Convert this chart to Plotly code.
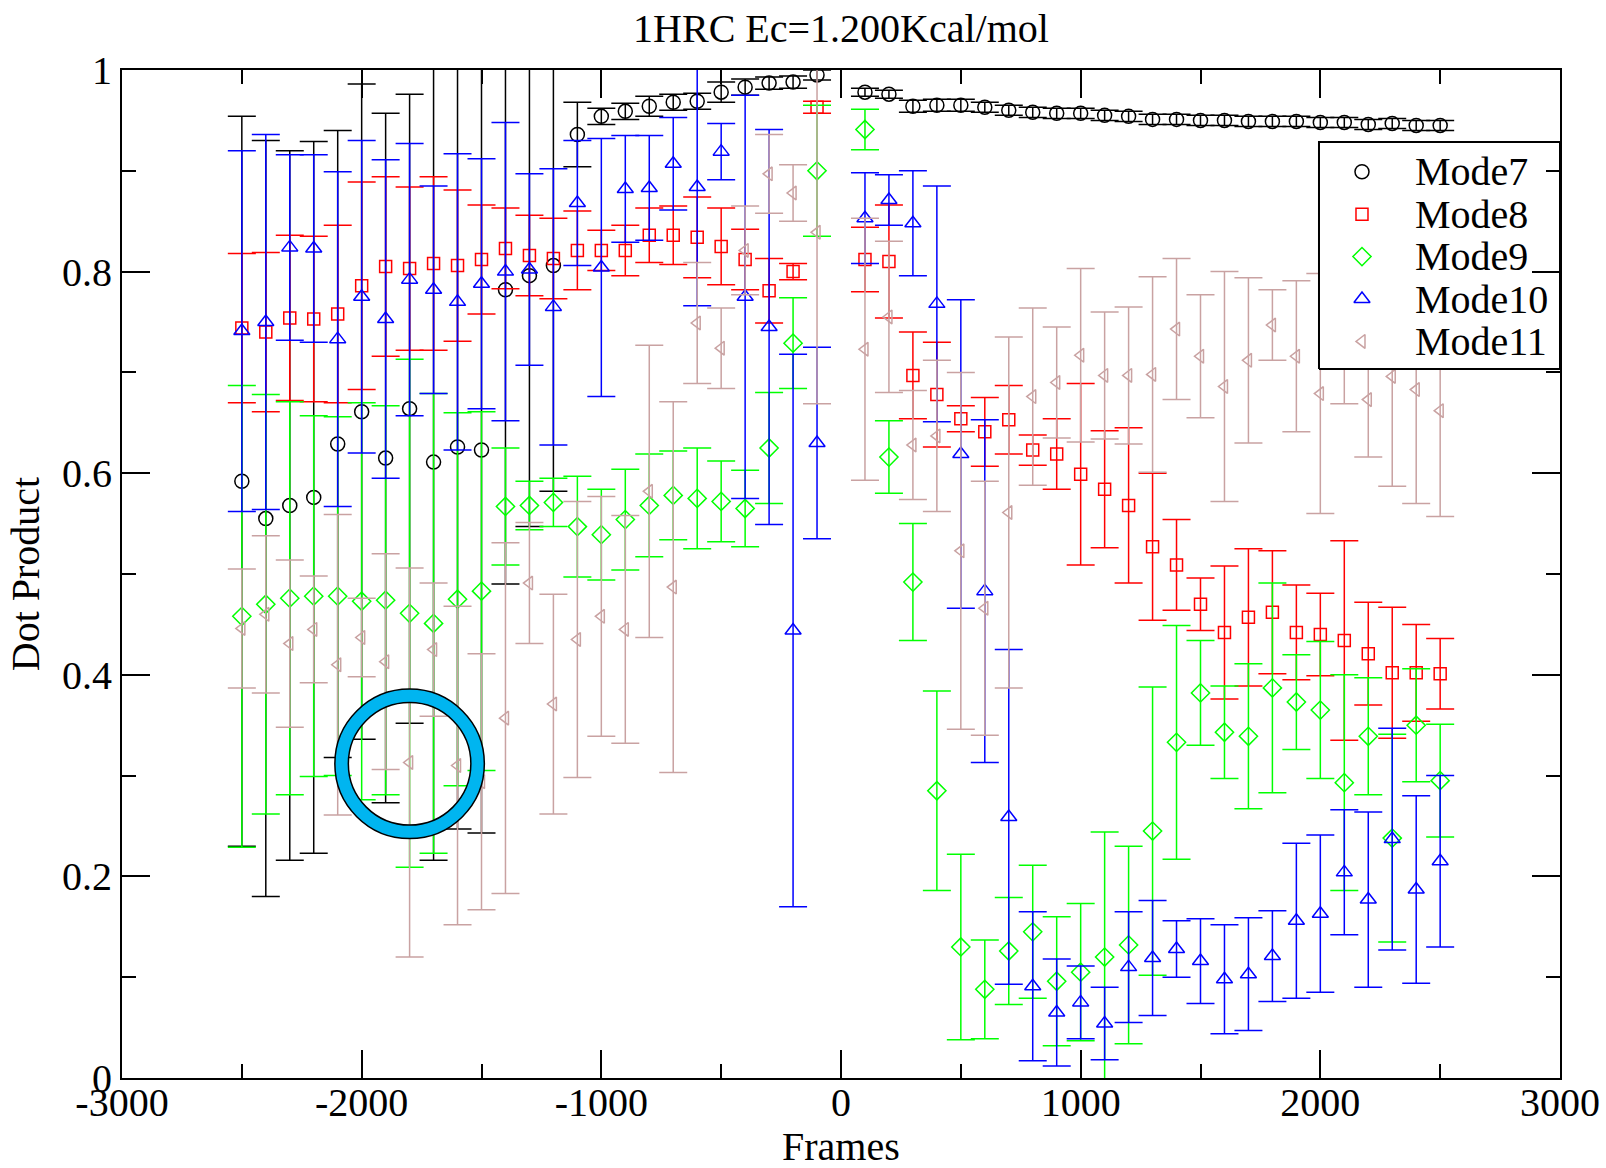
import plotly.graph_objects as go

# ---------------- data ----------------
frames = [-2500, -2400, -2300, -2200, -2100, -2000, -1900, -1800, -1700, -1600,
          -1500, -1400, -1300, -1200, -1100, -1000, -900, -800, -700, -600,
          -500, -400, -300, -200, -100,
          100, 200, 300, 400, 500, 600, 700, 800, 900, 1000,
          1100, 1200, 1300, 1400, 1500, 1600, 1700, 1800, 1900, 2000,
          2100, 2200, 2300, 2400, 2500]

mode7 = [0.592, 0.555, 0.568, 0.576, 0.629, 0.661, 0.615, 0.664, 0.611, 0.626,
         0.623, 0.782, 0.796, 0.806, 0.936, 0.954, 0.959, 0.964, 0.968, 0.969,
         0.978, 0.983, 0.987, 0.988, 0.995,
         0.978, 0.976, 0.964, 0.965, 0.965, 0.963, 0.960, 0.958, 0.957, 0.957,
         0.955, 0.954, 0.951, 0.951, 0.950, 0.950, 0.949, 0.949, 0.949, 0.948,
         0.948, 0.946, 0.947, 0.945, 0.945]
mode7_err = [0.362, 0.375, 0.352, 0.353, 0.311, 0.325, 0.342, 0.312, 0.395, 0.379,
             0.380, 0.292, 0.249, 0.224, 0.032, 0.008, 0.008, 0.010, 0.008, 0.008,
             0.010, 0.008, 0.006, 0.006, 0.005,
             0.004, 0.004, 0.006, 0.006, 0.006, 0.005, 0.005, 0.005, 0.005, 0.005,
             0.005, 0.005, 0.005, 0.005, 0.005, 0.005, 0.005, 0.005, 0.005, 0.005,
             0.005, 0.005, 0.005, 0.005, 0.005]

mode8 = [0.744, 0.740, 0.754, 0.753, 0.758, 0.786, 0.805, 0.803, 0.808, 0.806,
         0.812, 0.823, 0.816, 0.813, 0.821, 0.821, 0.821, 0.836, 0.836, 0.834,
         0.825, 0.812, 0.781, 0.800, 0.963,
         0.812, 0.810, 0.697, 0.678, 0.654, 0.641, 0.653, 0.623, 0.619, 0.599,
         0.584, 0.568, 0.527, 0.509, 0.470, 0.442, 0.457, 0.462, 0.442, 0.440,
         0.434, 0.421, 0.402, 0.402, 0.401]
mode8_err = [0.074, 0.079, 0.082, 0.082, 0.088, 0.103, 0.089, 0.081, 0.086, 0.075,
             0.054, 0.040, 0.040, 0.040, 0.039, 0.020, 0.025, 0.027, 0.029, 0.040,
             0.038, 0.030, 0.032, 0.008, 0.006,
             0.032, 0.056, 0.043, 0.052, 0.013, 0.034, 0.034, 0.015, 0.035, 0.090,
             0.058, 0.077, 0.073, 0.045, 0.026, 0.066, 0.068, 0.061, 0.047, 0.041,
             0.099, 0.051, 0.065, 0.048, 0.035]

mode9 = [0.458, 0.470, 0.476, 0.478, 0.478, 0.473, 0.474, 0.461, 0.451, 0.475,
         0.483, 0.567, 0.568, 0.571, 0.547, 0.539, 0.554, 0.568, 0.578, 0.575,
         0.572, 0.565, 0.625, 0.729, 0.900,
         0.941, 0.616, 0.492, 0.285, 0.130, 0.088, 0.126, 0.145, 0.096, 0.105,
         0.120, 0.132, 0.245, 0.333, 0.382, 0.343, 0.339, 0.387, 0.373, 0.365,
         0.293, 0.339, 0.238, 0.350, 0.295]
mode9_err = [0.229, 0.208, 0.195, 0.179, 0.178, 0.197, 0.193, 0.252, 0.228, 0.185,
             0.178, 0.058, 0.024, 0.024, 0.050, 0.045, 0.050, 0.051, 0.044, 0.050,
             0.040, 0.038, 0.055, 0.045, 0.065,
             0.020, 0.036, 0.058, 0.099, 0.092, 0.049, 0.053, 0.066, 0.064, 0.068,
             0.124, 0.098, 0.143, 0.116, 0.052, 0.046, 0.072, 0.104, 0.047, 0.068,
             0.107, 0.058, 0.103, 0.056, 0.056]

mode10 = [0.741, 0.750, 0.824, 0.823, 0.733, 0.775, 0.753, 0.792, 0.782, 0.770,
          0.788, 0.800, 0.802, 0.765, 0.868, 0.804, 0.882, 0.883, 0.907, 0.884,
          0.919, 0.775, 0.745, 0.444, 0.630,
          0.853, 0.871, 0.848, 0.768, 0.619, 0.483, 0.259, 0.091, 0.065, 0.075,
          0.054, 0.110, 0.119, 0.128, 0.116, 0.098, 0.103, 0.121, 0.156, 0.163,
          0.204, 0.177, 0.237, 0.187, 0.215]
mode10_err = [0.179, 0.186, 0.092, 0.093, 0.166, 0.155, 0.158, 0.135, 0.103, 0.147,
              0.124, 0.148, 0.095, 0.137, 0.062, 0.128, 0.053, 0.052, 0.046, 0.118,
              0.028, 0.200, 0.196, 0.274, 0.095,
              0.045, 0.025, 0.052, 0.117, 0.153, 0.170, 0.166, 0.074, 0.053, 0.036,
              0.036, 0.055, 0.057, 0.028, 0.042, 0.054, 0.056, 0.045, 0.077, 0.078,
              0.062, 0.087, 0.110, 0.093, 0.085]

mode11 = [0.446, 0.460, 0.431, 0.445, 0.410, 0.437, 0.413, 0.313, 0.425, 0.310,
          0.294, 0.357, 0.491, 0.371, 0.435, 0.458, 0.445, 0.582, 0.487, 0.749,
          0.724, 0.821, 0.897, 0.878, 0.839,
          0.723, 0.755, 0.628, 0.637, 0.523, 0.466, 0.561, 0.676, 0.690, 0.717,
          0.697, 0.697, 0.698, 0.743, 0.716, 0.686, 0.712, 0.747, 0.716, 0.679,
          0.750, 0.673, 0.696, 0.683, 0.662]
mode11_err = [0.059, 0.078, 0.083, 0.053, 0.149, 0.039, 0.107, 0.193, 0.066, 0.158,
              0.127, 0.174, 0.060, 0.109, 0.137, 0.119, 0.113, 0.145, 0.184, 0.060,
              0.040, 0.044, 0.039, 0.028, 0.170,
              0.130, 0.075, 0.054, 0.075, 0.177, 0.126, 0.174, 0.088, 0.055, 0.086,
              0.063, 0.068, 0.097, 0.070, 0.061, 0.114, 0.082, 0.035, 0.075, 0.119,
              0.081, 0.057, 0.109, 0.113, 0.105]

series_names = ["Mode7", "Mode8", "Mode9", "Mode10", "Mode11"]

x_tick_vals = [-3000, -2000, -1000, 0, 1000, 2000, 3000]
x_tick_text = ["-3000", "-2000", "-1000", "0", "1000", "2000", "3000"]
x_minor_vals = [-2500, -1500, -500, 500, 1500, 2500]
y_tick_vals = [0, 0.2, 0.4, 0.6, 0.8, 1.0]
y_tick_text = ["0", "0.2", "0.4", "0.6", "0.8", "1"]
y_minor_vals = [0.1, 0.3, 0.5, 0.7, 0.9]

title_text = "1HRC Ec=1.200Kcal/mol"
x_title = "Frames"
y_title = "Dot Product"

# highlighted point (blue ring in the reference)
highlight_frame = -1800
highlight_value = 0.3117

# ---------------- styles ----------------
FONT = "Liberation Serif"
colors = ["#000000", "#ff0000", "#00ff00", "#0000ff", "#c9a2a2"]
symbols = ["circle-open", "square-open", "diamond-open", "triangle-up-open", "triangle-left-open"]
sizes = [14, 12, 14, 14, 12]

values = [mode7, mode8, mode9, mode10, mode11]
errors = [mode7_err, mode8_err, mode9_err, mode10_err, mode11_err]

fig = go.Figure()
for name, yv, ev, c, sym, sz in zip(series_names, values, errors, colors, symbols, sizes):
    fig.add_trace(go.Scatter(
        x=frames, y=yv, mode="markers", name=name, showlegend=False,
        marker=dict(symbol=sym, size=sz, color=c, line=dict(width=1.5, color=c)),
        error_y=dict(type="data", array=ev, symmetric=True, color=c,
                     thickness=1.5, width=14),
    ))

# ---------------- custom legend (drawn on an overlay axis in paper units) ----------------
LEG_X0, LEG_X1, LEG_Y0, LEG_Y1 = 0.8324, 1.0, 0.7034, 0.9286
LEG_MARK_X, LEG_TEXT_X = 0.8623, 0.8978
LEG_ROW0, LEG_ROW_STEP = 0.8991, 0.0421

fig.add_trace(go.Scatter(
    x=[LEG_X0, LEG_X1, LEG_X1, LEG_X0, LEG_X0],
    y=[LEG_Y0, LEG_Y0, LEG_Y1, LEG_Y1, LEG_Y0],
    mode="lines", fill="toself", fillcolor="white",
    line=dict(color="black", width=2), hoverinfo="skip", showlegend=False,
    xaxis="x2", yaxis="y2"))

annotations = []
for i, (name, c, sym, sz) in enumerate(zip(series_names, colors, symbols, sizes)):
    ry = LEG_ROW0 - i * LEG_ROW_STEP
    fig.add_trace(go.Scatter(
        x=[LEG_MARK_X], y=[ry], mode="markers", showlegend=False, hoverinfo="skip",
        marker=dict(symbol=sym, size=sz, color=c, line=dict(width=1.5, color=c)),
        xaxis="x2", yaxis="y2"))
    annotations.append(dict(
        x=LEG_TEXT_X, y=ry, xref="paper", yref="paper", text=name,
        showarrow=False, xanchor="left", yanchor="middle",
        font=dict(family=FONT, size=40, color="black")))

# x-axis title placed as an annotation just above the bottom edge
annotations.append(dict(
    x=0.5, y=0, xref="paper", yref="paper", yshift=-92, text=x_title,
    showarrow=False, xanchor="center", yanchor="bottom", borderpad=0,
    font=dict(family=FONT, size=40, color="black")))

# ---------------- ring highlight ----------------
R = 68
shapes = [
    dict(type="circle", xref="x", yref="y", xsizemode="pixel", ysizemode="pixel",
         xanchor=highlight_frame, yanchor=highlight_value,
         x0=-R, x1=R, y0=-R, y1=R, line=dict(color="black", width=15), layer="above"),
    dict(type="circle", xref="x", yref="y", xsizemode="pixel", ysizemode="pixel",
         xanchor=highlight_frame, yanchor=highlight_value,
         x0=-R, x1=R, y0=-R, y1=R, line=dict(color="#00b5f0", width=12), layer="above"),
]

axis_common = dict(
    showline=True, linecolor="black", linewidth=2, mirror="allticks",
    ticks="inside", ticklen=28, tickwidth=1.5, tickcolor="black",
    showgrid=False, zeroline=False,
    tickfont=dict(family=FONT, size=40, color="black"),
)

fig.update_layout(
    width=1606, height=1168,
    margin=dict(l=122, r=46, t=70, b=90),
    paper_bgcolor="white", plot_bgcolor="white",
    title=dict(text=title_text, x=0.5, xref="paper", xanchor="center",
               y=0.976, yref="container", yanchor="middle",
               font=dict(family=FONT, size=40, color="black")),
    xaxis=dict(range=[-3000, 3000], tickmode="array", tickvals=x_tick_vals, ticktext=x_tick_text,
               minor=dict(tickmode="array", tickvals=x_minor_vals, ticks="inside", ticklen=14,
                          tickwidth=1.5, tickcolor="black"),
               automargin=False, **axis_common),
    yaxis=dict(range=[0, 1], tickmode="array", tickvals=y_tick_vals, ticktext=y_tick_text,
               minor=dict(tickmode="array", tickvals=y_minor_vals, ticks="inside", ticklen=14,
                          tickwidth=1.5, tickcolor="black"),
               title=dict(text=y_title, font=dict(family=FONT, size=40, color="black"), standoff=10),
               automargin=False, **axis_common),
    xaxis2=dict(overlaying="x", range=[0, 1], visible=False, anchor="y2", fixedrange=True),
    yaxis2=dict(overlaying="y", range=[0, 1], visible=False, anchor="x2", fixedrange=True),
    annotations=annotations,
    shapes=shapes,
    showlegend=False,
)

# nudge the x tick labels a little closer to the axis, as in the reference
try:
    fig.update_layout(xaxis_ticklabelstandoff=-12)
except Exception:
    pass

fig.write_html("out.html")
